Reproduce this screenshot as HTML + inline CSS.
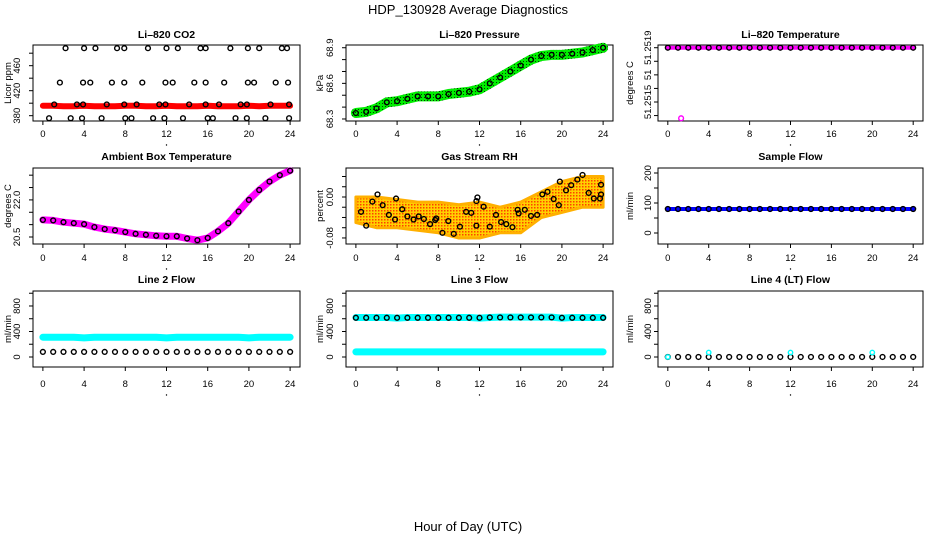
<!DOCTYPE html>
<html><head><meta charset="utf-8">
<style>
html,body{margin:0;padding:0;background:#fff;}
svg{display:block;font-family:"Liberation Sans",sans-serif;}
</style></head>
<body>
<svg id="chart" width="936" height="540" viewBox="0 0 936 540" xmlns="http://www.w3.org/2000/svg">
<defs>
<pattern id="rhpat" width="3" height="3" patternUnits="userSpaceOnUse">
<rect width="3" height="3" fill="#ffd000"/><rect x="0" y="0" width="1.5" height="1.5" fill="#ff4000"/>
</pattern>
<pattern id="grpat" width="3" height="3" patternUnits="userSpaceOnUse">
<rect width="3" height="3" fill="#00ee00"/><rect x="1" y="1" width="1" height="1" fill="#004000"/>
</pattern>
</defs>
<text x="468" y="14" text-anchor="middle" font-size="13">HDP_130928  Average Diagnostics</text>
<text x="468" y="531" text-anchor="middle" font-size="13">Hour of Day (UTC)</text>
</svg>
<script>
// ---- data ----
const hours = [0,1,2,3,4,5,6,7,8,9,10,11,12,13,14,15,16,17,18,19,20,21,22,23,24];
const xTicks = [0,4,8,12,16,20,24];
const co2TopHours = [2.2,4.0,5.1,7.2,7.9,10.2,12.0,13.1,15.3,15.8,18.2,19.9,21.0,23.2,23.7];
const co2MidHours = [1.65,3.9,4.6,6.7,7.9,9.65,11.9,12.6,14.7,15.8,17.6,19.9,20.5,22.6,23.8];
const co2LowHours = [1.1,3.3,3.9,6.2,7.9,9.1,11.3,11.9,14.2,15.8,17.1,19.2,19.8,22.1,23.9];
const co2BotHours = [0.6,2.7,3.8,5.7,8.0,8.6,10.7,11.8,13.6,16.0,16.5,18.7,19.8,21.6,23.9];
const co2Levels = [488,433,398,376];
const co2Red = [396,396,395,395,396,395,395,395,396,396,395,395,396,395,395,395,396,395,395,395,396,395,396,396,396];
const pressure = [68.35,68.36,68.39,68.44,68.45,68.47,68.49,68.49,68.49,68.51,68.52,68.53,68.55,68.60,68.65,68.70,68.75,68.80,68.83,68.84,68.84,68.85,68.86,68.88,68.90];
const liTemp = [51.2519,51.2519,51.2519,51.2519,51.2519,51.2519,51.2519,51.2519,51.2519,51.2519,51.2519,51.2519,51.2519,51.2519,51.2519,51.2519,51.2519,51.2519,51.2519,51.2519,51.2519,51.2519,51.2519,51.2519,51.2519];
const liTempOutlierHour = [1.3];
const liTempOutlierVal = [51.25138];
const ambient = [21.19,21.17,21.10,21.06,21.02,20.90,20.82,20.77,20.70,20.63,20.59,20.55,20.53,20.53,20.44,20.37,20.46,20.73,21.06,21.53,22.00,22.40,22.74,23.00,23.18];
const rhHours = [0.5,1.0,1.6,2.1,2.6,3.2,3.8,3.9,4.5,5.0,5.6,6.1,6.6,7.2,7.7,7.8,8.4,8.97,9.5,10.1,10.7,11.2,11.7,11.8,11.7,12.4,13.0,13.6,14.1,14.6,15.2,15.7,15.8,16.4,17.0,17.6,18.1,18.6,19.2,19.7,19.8,20.4,20.9,21.5,22.0,22.6,23.1,23.7,23.8,23.8];
const rhVals = [-0.029,-0.056,-0.009,0.005,-0.016,-0.035,-0.044,-0.003,-0.024,-0.038,-0.044,-0.038,-0.043,-0.053,-0.045,-0.042,-0.070,-0.047,-0.072,-0.058,-0.029,-0.031,-0.008,-0.001,-0.056,-0.019,-0.058,-0.035,-0.049,-0.053,-0.059,-0.025,-0.032,-0.025,-0.037,-0.035,0.005,0.010,-0.004,-0.016,0.030,0.013,0.023,0.034,0.043,0.008,-0.003,-0.003,0.024,0.005];
const rhBandHours = [0,2,4,6,8,10,12,14,16,18,20,22,24];
const rhBandHigh = [0.0,0.0,-0.005,-0.01,-0.01,-0.015,-0.01,-0.02,-0.01,0.01,0.03,0.04,0.04];
const rhBandLow = [-0.05,-0.06,-0.06,-0.065,-0.07,-0.08,-0.08,-0.07,-0.07,-0.04,-0.03,-0.02,-0.02];
const sampleFlow = [80,80,80,80,80,80,80,80,80,80,80,80,80,80,80,80,80,80,80,80,80,80,80,80,80];
const line2Cyan = [310,310,310,310,300,310,310,310,310,310,310,310,300,310,310,310,310,310,310,310,300,310,310,310,310];
const line2Black = [80,80,80,80,80,80,80,80,80,80,80,80,80,80,80,80,80,80,80,80,80,80,80,80,80];
const line3Black = [615,615,615,615,615,615,615,615,615,615,615,615,615,620,620,620,620,620,620,620,615,615,615,615,615];
const line3CyanHigh = [620,620,620,620,610,620,620,620,620,620,620,620,610,620,625,625,625,625,625,625,610,620,620,620,620];
const line3CyanLow = [80,80,80,80,80,80,80,80,80,80,80,80,80,80,80,80,80,80,80,80,80,80,80,80,80];
const line4Black = [0,0,0,0,0,0,0,0,0,0,0,0,0,0,0,0,0,0,0,0,0,0,0,0,0];
const line4CyanHours = [0,4,12,20];
const line4CyanVals = [0,70,70,70];

// ---- drawing ----
const NS = "http://www.w3.org/2000/svg";
const svg = document.getElementById("chart");
function mk(tag, attrs, parent){
  const e = document.createElementNS(NS, tag);
  for (const k in attrs) e.setAttribute(k, attrs[k]);
  (parent||svg).appendChild(e);
  return e;
}
const cols = [{l:33,r:300,yl:17,yt:8},{l:346,r:613,yl:330,yt:320},{l:658,r:923,yl:648,yt:630}];
const rows = [{t:45,b:121,title:38,lab:137},{t:168,b:244,title:160,lab:261},{t:291,b:367,title:283,lab:387}];

function makePanel(name, ci, ri, title, ylab, ymin, ymax, yTicks, yLabels){
  const c = cols[ci], r = rows[ri];
  const g = mk("g", {});
  
  
  const xs = h => c.l + (h + 0.96) / 25.92 * (c.r - c.l);
  const ys = v => r.b - (v - ymin) / (ymax - ymin) * (r.b - r.t);
  const box = mk("rect", {x:c.l, y:r.t, width:c.r-c.l, height:r.b-r.t, fill:"none", stroke:"#000", "stroke-width":1}, g);
  
  
  const tt = mk("text", {x:(c.l+c.r)/2, y:r.title, "text-anchor":"middle", "font-size":10.5, "font-weight":"bold"}, g);
  tt.textContent = title;
  
  
  const xa = mk("g", {}, g);
  
  
  mk("line", {x1:xs(0), x2:xs(24), y1:r.b, y2:r.b, stroke:"#000"}, xa);
  xTicks.forEach(t => {
    mk("line", {x1:xs(t), x2:xs(t), y1:r.b, y2:r.b+4, stroke:"#000"}, xa);
    const tx = mk("text", {x:xs(t), y:r.lab, "text-anchor":"middle", "font-size":9.5}, xa);
    tx.textContent = t;
    
    
  });
  mk("circle", {cx:xs(12), cy:r.lab+8, r:0.7, fill:"#000"}, xa);
  const ya = mk("g", {}, g);
  
  
  mk("line", {x1:c.l, x2:c.l, y1:ys(yTicks[0]), y2:ys(yTicks[yTicks.length-1]), stroke:"#000"}, ya);
  yTicks.forEach((t,i) => {
    mk("line", {x1:c.l-4, x2:c.l, y1:ys(t), y2:ys(t), stroke:"#000"}, ya);
    if (yLabels[i]) {
      const tx = mk("text", {x:c.yl, y:ys(t), "text-anchor":"middle", "font-size":9.5, transform:`rotate(-90 ${c.yl} ${ys(t)})`, dy:"3"}, ya);
      tx.textContent = yLabels[i];
      
      
    }
  });
  const yt = mk("text", {x:c.yt, y:(r.t+r.b)/2, "text-anchor":"middle", "font-size":9.5, transform:`rotate(-90 ${c.yt} ${(r.t+r.b)/2})`, dy:"3"}, g);
  yt.textContent = ylab;
  
  
  return {g, xs, ys};
}
function band(p, hs, vs, color, w, name){
  const pts = hs.map((h,i)=> p.xs(h).toFixed(1)+","+p.ys(vs[i]).toFixed(1)).join(" ");
  const e = mk("polyline", {points:pts, fill:"none", stroke:color, "stroke-width":w, "stroke-linecap":"round", "stroke-linejoin":"round"}, p.g);
  
  
}
function dots(p, hs, vs, color, name, rr){
  const g = mk("g", {}, p.g);
  
  
  hs.forEach((h,i)=>{
    mk("circle", {cx:p.xs(h), cy:p.ys(vs[i]), r:rr||2.4, fill:"none", stroke:color, "stroke-width":1.4}, g);
  });
}

// Li-820 CO2
let p = makePanel("panel-co2", 0, 0, "Li\u2013820 CO2", "Licor ppm", 371.5, 493.1, [380,400,420,440,460,480], ["380","","420","","460",""]);
band(p, hours, co2Red, "#ff0000", 6, "co2-red-series");
[co2TopHours, co2MidHours, co2LowHours, co2BotHours].forEach((hs,k)=> dots(p, hs, hs.map(()=>co2Levels[k]), "#000", "co2-points"));

// Pressure
p = makePanel("panel-pressure", 1, 0, "Li\u2013820 Pressure", "kPa", 68.283, 68.923, [68.3,68.4,68.5,68.6,68.7,68.8,68.9], ["68.3","","","68.6","","","68.9"]);
band(p, hours, pressure, "url(#grpat)", 10, "pressure-green-series");
dots(p, hours, pressure, "#000", "pressure-points");

// Temperature
p = makePanel("panel-li-temp", 2, 0, "Li\u2013820 Temperature", "degrees C", 51.25136, 51.25192, [51.2514,51.2515,51.2516,51.2517,51.2518,51.2519], ["","51.2515","","51","","51.2519"]);
band(p, hours, liTemp, "#ff00ff", 4, "li-temp-magenta-series");
dots(p, hours, liTemp, "#000", "li-temp-points");
dots(p, liTempOutlierHour, liTempOutlierVal, "#ff00ff", "li-temp-outlier");

// Ambient
p = makePanel("panel-ambient", 0, 1, "Ambient Box Temperature", "degrees C", 20.217, 23.29, [20.5,21.0,21.5,22.0,22.5,23.0], ["20.5","","","22.0","",""]);
band(p, hours, ambient, "#ff00ff", 7, "ambient-magenta-series");
dots(p, hours, ambient, "#000", "ambient-points");

// RH
p = makePanel("panel-rh", 1, 1, "Gas Stream RH", "percent", -0.0918, 0.0566, [-0.08,-0.06,-0.04,-0.02,0,0.02,0.04], ["-0.08","","","","0.00","",""]);
{
  const up = rhBandHours.map((h,i)=>p.xs(h).toFixed(1)+","+p.ys(rhBandHigh[i]).toFixed(1));
  const dn = rhBandHours.map((h,i)=>p.xs(h).toFixed(1)+","+p.ys(rhBandLow[i]).toFixed(1)).reverse();
  const e = mk("polygon", {points:up.concat(dn).join(" "), fill:"url(#rhpat)", stroke:"#ffb000", "stroke-width":3, "stroke-linejoin":"round"}, p.g);
  
  
}
dots(p, rhHours, rhVals, "#000", "rh-points");

// Sample flow
p = makePanel("panel-sample-flow", 2, 1, "Sample Flow", "ml/min", -36.7, 216.7, [0,50,100,150,200], ["0","","100","","200"]);
band(p, hours, sampleFlow, "#0000ff", 4, "sample-flow-blue-series");
dots(p, hours, sampleFlow, "#000", "sample-flow-points");

const flowTicks = [0,200,400,600,800,1000];
const flowLabels = ["0","","400","","800",""];
// Line 2
p = makePanel("panel-line2", 0, 2, "Line 2 Flow", "ml/min", -157, 1035, flowTicks, flowLabels);
band(p, hours, line2Cyan, "#00ffff", 7, "line2-cyan-series");
dots(p, hours, line2Black, "#000", "line2-points");
// Line 3
p = makePanel("panel-line3", 1, 2, "Line 3 Flow", "ml/min", -157, 1035, flowTicks, flowLabels);
band(p, hours, line3CyanHigh, "#00ffff", 7, "line3-cyan-high-series");
band(p, hours, line3CyanLow, "#00ffff", 7, "line3-cyan-low-series");
dots(p, hours, line3Black, "#000", "line3-points");
// Line 4
p = makePanel("panel-line4", 2, 2, "Line 4 (LT) Flow", "ml/min", -157, 1035, flowTicks, flowLabels);
dots(p, hours, line4Black, "#000", "line4-points");
dots(p, line4CyanHours, line4CyanVals, "#00ffff", "line4-cyan-points", 2.2);
</script>
</body></html>
